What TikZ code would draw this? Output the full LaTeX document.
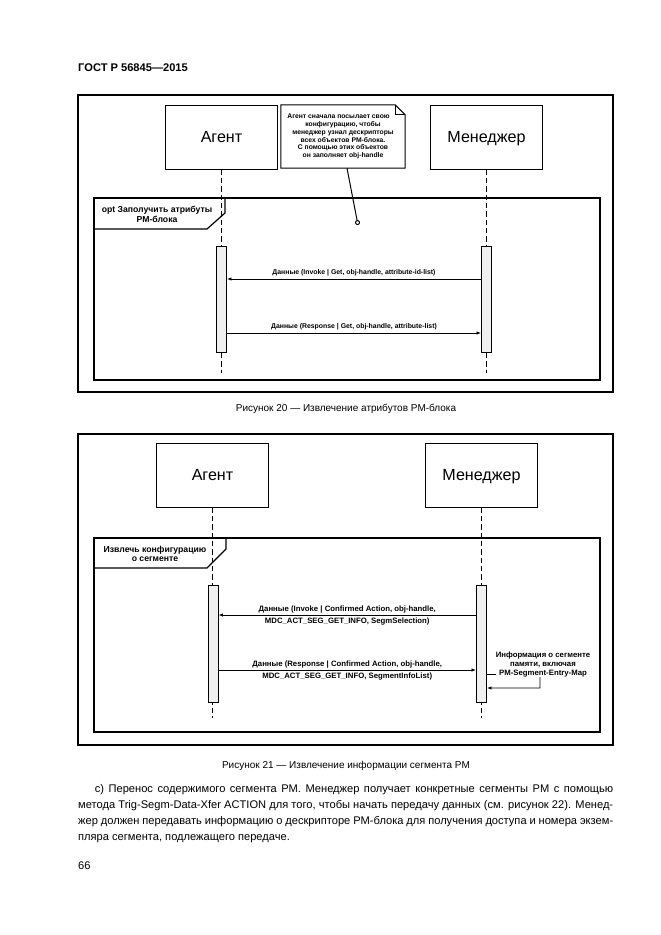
\documentclass[tikz,border=0pt]{standalone}
\usepackage{fontspec}
\setmainfont{Liberation Sans}
\usetikzlibrary{arrows.meta,positioning,calc}
\newcommand{\msgfont}{\fontsize{6.2}{7.2}\selectfont\bfseries}
\newcommand{\msgfontB}{\fontsize{7}{11}\selectfont\bfseries}
\newcommand{\framefont}{\fontsize{7.8}{8.8}\selectfont\bfseries}

\begin{document}
\begin{tikzpicture}[
    x=0.9pt, y=-0.9pt,
    >={Latex[length=4pt,width=3pt]},
    lifebox/.style={draw, line width=0.9pt, minimum width=100pt,
        minimum height=57.6pt, text height=10pt, text depth=0pt,
        font=\fontsize{14.5}{16}\selectfont},
    lifeline/.style={dash pattern=on 5pt off 2.5pt, line width=0.7pt},
    actbar/.style={draw, line width=0.9pt, fill=gray!12, inner sep=0pt,
        minimum width=9pt},
    outerframe/.style={line width=1.1pt},
    optframe/.style={line width=1.4pt},
    msg/.style={->, line width=0.6pt},
    msglabel/.style={font=\msgfont, inner sep=0pt, align=center},
    notebox/.style={font=\fontsize{6.1}{7}\selectfont\bfseries, align=center,
        inner sep=0pt, minimum width=111.6pt, minimum height=56.7pt},
    caption/.style={font=\fontsize{9}{11}\selectfont},
]
\useasboundingbox (0,0) rectangle (661,935);

% header
\node[anchor=west, inner sep=0pt, font=\fontsize{10}{12}\selectfont\bfseries] (header) at (78,68) {ГОСТ Р 56845---2015};

% ---------- figure 20 ----------
\draw[outerframe] (78,95) rectangle (613,392);
\node[lifebox] (agentA) at (221.5,137) {Агент};
\node[lifebox] (managerA) at (486.5,137) {Менеджер};
\node[notebox] (noteA) at (343,136.5) {\hspace*{-4pt}Агент сначала посылает свою\hspace*{4pt}\\конфигурацию, чтобы\\менеджер узнал дескрипторы\\всех объектов PM-блока.\\С помощью этих объектов\\он заполняет obj-handle};
\draw[line width=0.9pt] (noteA.north west) -- ([xshift=-9pt]noteA.north east)
    -- ([yshift=-9pt]noteA.north east) -- (noteA.south east) -- (noteA.south west) -- cycle;
\draw[line width=0.6pt] ([xshift=-9pt]noteA.north east) -- ([xshift=-9pt,yshift=-9pt]noteA.north east)
    -- ([yshift=-9pt]noteA.north east);
\coordinate (pinA) at (358,225);
\draw[line width=0.9pt, -{Circle[open,length=4.5pt]}] ([xshift=3.6pt]noteA.south) -- (pinA);

\coordinate (endA) at (0,373);
\draw[lifeline] (agentA.south) -- (agentA.south |- endA);
\draw[lifeline] (managerA.south) -- (managerA.south |- endA);

\draw[optframe] (94,198) rectangle (600,380);
\draw[line width=1.1pt] (94,229) -- (207,229) -- (225,213) -- (225,198);
\node[msglabel, font=\framefont] (optA) at (157,214) {opt Заполучить атрибуты\\PM-блока};

\node[actbar, minimum height=95.4pt] (actAgentA) at (221.5,299) {};
\node[actbar, minimum height=95.4pt] (actManagerA) at (486.5,299) {};

\draw[msg] (actManagerA.west |- 0,279) -- (actAgentA.east |- 0,279)
    node[msglabel, midway, above=2.5pt] {Данные (Invoke | Get, obj-handle, attribute-id-list)};
\draw[msg] (actAgentA.east |- 0,333) -- (actManagerA.west |- 0,333)
    node[msglabel, midway, above=2.5pt] {Данные (Response | Get, obj-handle, attribute-list)};

\node[caption] (captionA) at (346,409) {Рисунок 20 --- Извлечение атрибутов PM-блока};

% ---------- figure 21 ----------
\draw[outerframe] (78,434) rectangle (613,745);
\node[lifebox] (agentB) at (212.5,475) {Агент};
\node[lifebox] (managerB) at (481.5,475) {Менеджер};

\coordinate (endB) at (0,718);
\draw[lifeline] (agentB.south) -- (agentB.south |- endB);
\draw[lifeline] (managerB.south) -- (managerB.south |- endB);

\draw[optframe] (94,538) rectangle (600,732);
\draw[line width=1.1pt] (94,568) -- (207,568) -- (226,549) -- (226,538);
\node[msglabel, font=\framefont] (optB) at (155,554) {Извлечь конфигурацию\\о сегменте};

\node[actbar, minimum height=105.3pt] (actAgentB) at (213,643.5) {};
\node[actbar, minimum height=105.3pt] (actManagerB) at (481.5,643.5) {};

\draw[msg] (actManagerB.west |- 0,615) -- (actAgentB.east |- 0,615)
    node[msglabel, font=\msgfontB, midway, yshift=-0.5pt] {Данные (Invoke | Confirmed Action, obj-handle,\\MDC\_ACT\_SEG\_GET\_INFO, SegmSelection)};
\draw[msg] (actAgentB.east |- 0,670) -- (actManagerB.west |- 0,670)
    node[msglabel, font=\msgfontB, midway, yshift=-0.5pt] {Данные (Response | Confirmed Action, obj-handle,\\MDC\_ACT\_SEG\_GET\_INFO, SegmentInfoList)};

\node[msglabel, font=\fontsize{7}{7.8}\selectfont\bfseries, anchor=south] (selfB) at (543,677) {Информация о сегменте\\памяти, включая\\PM-Segment-Entry-Map};
\coordinate (selfturnB) at (540,688);
\draw[line width=0.6pt] (actManagerB.east |- 0,674) -- (selfB.west |- 0,674);
\draw[msg] ([xshift=-2.7pt]selfB.south) -- (selfturnB) -- (actManagerB.east |- selfturnB);

\node[caption] (captionB) at (346,766) {Рисунок 21 --- Извлечение информации сегмента PM};

% text below
\node[anchor=north west, inner sep=0pt, text width=481.5pt, align=justify,
    font=\fontsize{10}{14.4}\selectfont] (para) at (78,784)
    {\hyphenpenalty=10000\hspace*{15pt}с) Перенос содержимого сегмента PM. Менеджер получает конкретные сегменты PM с помощью\linebreak
    метода Trig-Segm-Data-Xfer ACTION для того, чтобы начать передачу данных (см. рисунок 22). Менед-\linebreak
    жер должен передавать информацию о дескрипторе PM-блока для получения доступа и номера экзем-\linebreak
    пляра сегмента, подлежащего передаче.};
\node[anchor=west, inner sep=0pt, font=\fontsize{10}{12}\selectfont] (pagenum) at (78,866) {66};
\end{tikzpicture}
\end{document}
